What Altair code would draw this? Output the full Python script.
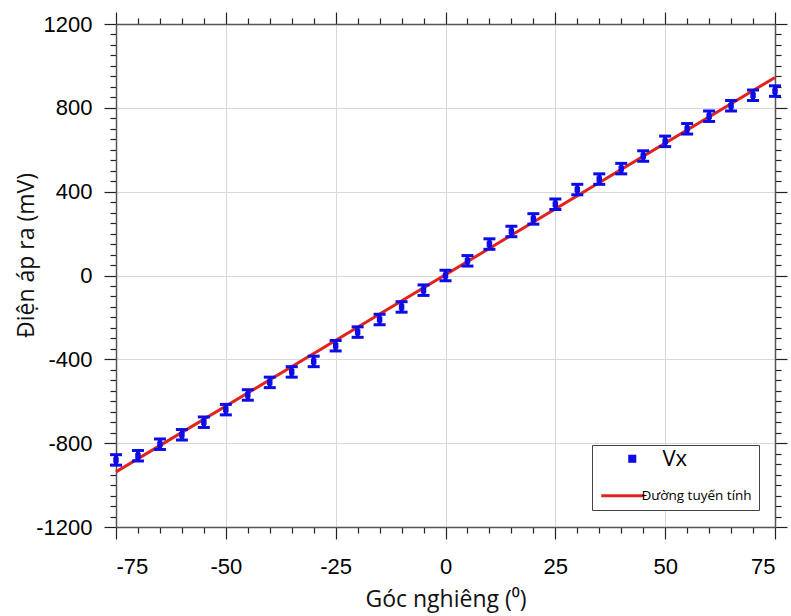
import altair as alt
import pandas as pd

# ---- data ----
angles = [-75, -70, -65, -60, -55, -50, -45, -40, -35, -30, -25, -20, -15, -10, -5,
          0, 5, 10, 15, 20, 25, 30, 35, 40, 45, 50, 55, 60, 65, 70, 75]
vx = [-880, -860, -805, -760, -700, -640, -570, -510, -460, -410, -335, -270, -210, -150, -70,
      0, 70, 150, 210, 270, 340, 410, 460, 510, 570, 640, 700, 760, 810, 860, 880]
vx_err = [25, 25, 25, 25, 25, 25, 25, 25, 25, 25, 25, 25, 25, 25, 25,
          25, 25, 25, 25, 25, 25, 25, 25, 25, 25, 25, 25, 25, 25, 25, 25]
fit_x = [-75, 75]
fit_y = [-937, 945]
series_names = ["Vx", "Đường tuyến tính"]
x_ticks = list(range(-75, 80, 5))
y_ticks = list(range(-1200, 1250, 50))

BLUE = "#0c0ce6"
RED = "#e0231f"

df = pd.DataFrame({"angle": angles, "vx": vx,
                   "lo": [v - e for v, e in zip(vx, vx_err)],
                   "hi": [v + e for v, e in zip(vx, vx_err)],
                   "series": series_names[0]})
fit_df = pd.DataFrame({"x": fit_x, "y": fit_y, "series": series_names[1]})

xscale = alt.Scale(domain=[-75, 75], nice=False, zero=False)
yscale = alt.Scale(domain=[-1200, 1200], nice=False, zero=False)
cscale = alt.Scale(domain=series_names, range=[BLUE, RED])

X_MAJOR = "datum.value % 25 === 0"
Y_MAJOR = "datum.value % 400 === 0"

common = dict(domainColor="#555555", domainWidth=1.5, tickColor="#222222", tickWidth=1.2,
              labelFont="Liberation Sans", labelFontSize=22, labelColor="black",
              labelOverlap=False, titleFont="Open Sans", titleFontSize=23,
              titleColor="#111111", titleFontWeight="normal")

x_bottom = alt.Axis(
    orient="bottom", values=x_ticks, title="Góc nghiêng (⁰)",
    labelExpr=f"{X_MAJOR} ? ('' + datum.value) : ''",
    tickSize={"condition": {"test": X_MAJOR, "value": 12}, "value": 6},
    labelPadding=17,
    grid=True, gridColor="#d8d8d8", gridWidth=1,
    gridOpacity={"condition": {"test": X_MAJOR, "value": 1}, "value": 0},
    titleX=329.5, titleY=79, titleBaseline="alphabetic", titleAnchor="middle",
    **common)
x_top = alt.Axis(
    orient="top", values=x_ticks, title=None, labels=False, grid=False,
    tickSize={"condition": {"test": X_MAJOR, "value": 12}, "value": 6},
    **common)
y_left = alt.Axis(
    orient="left", values=y_ticks, title="Điện áp ra (mV)",
    labelExpr=f"{Y_MAJOR} ? ('' + datum.value) : ''",
    tickSize={"condition": {"test": Y_MAJOR, "value": 12}, "value": 6},
    labelPadding=12,
    grid=True, gridColor="#d8d8d8", gridWidth=1,
    gridOpacity={"condition": {"test": Y_MAJOR, "value": 1}, "value": 0},
    titleX=-83, titleY=231, titleAngle=-90, titleBaseline="alphabetic",
    titleAnchor="middle",
    **common)
y_right = alt.Axis(
    orient="right", values=y_ticks, title=None, labels=False, grid=False,
    tickSize={"condition": {"test": Y_MAJOR, "value": 12}, "value": 6},
    **common)

# legend symbols as unit paths (scaled by the symbol size)
SQUARE_PATH = "M1.06,-0.19H1.44V0.19H1.06Z"
LINE_PATH = "M-0.21,0H1.82"
legend = alt.Legend(
    title=None, orient="none", legendX=476, legendY=421,
    strokeColor="#444444", fillColor="white", padding=7, cornerRadius=0,
    rowPadding=18,
    symbolType=alt.ExprRef(expr=f"datum.value == 'Vx' ? '{SQUARE_PATH}' : '{LINE_PATH}'"),
    symbolSize=1800,
    symbolStrokeWidth=alt.ExprRef(expr="datum.value == 'Vx' ? 0 : 3"),
    labelFontSize=alt.ExprRef(expr="datum.value == 'Vx' ? 22 : 13.5"),
    labelOffset=alt.ExprRef(expr="datum.value == 'Vx' ? 50 : 29"),
    labelFont="Open Sans", labelColor="black",
)

fit = alt.Chart(fit_df).mark_line(strokeWidth=3).encode(
    x=alt.X("x:Q", scale=xscale, axis=x_bottom),
    y=alt.Y("y:Q", scale=yscale, axis=y_left),
    color=alt.Color("series:N", scale=cscale, legend=legend),
)

bars = alt.Chart(df).mark_rule(strokeWidth=4, color=BLUE).encode(
    x=alt.X("angle:Q", scale=xscale, axis=x_top),
    y=alt.Y("lo:Q", scale=yscale, axis=y_right),
    y2="hi:Q",
)
cap_lo = alt.Chart(df).mark_tick(orient="horizontal", size=12, thickness=3, color=BLUE,
                                 opacity=1).encode(
    x=alt.X("angle:Q", scale=xscale, axis=None),
    y=alt.Y("lo:Q", scale=yscale, axis=None),
)
cap_hi = alt.Chart(df).mark_tick(orient="horizontal", size=12, thickness=3, color=BLUE,
                                 opacity=1).encode(
    x=alt.X("angle:Q", scale=xscale, axis=None),
    y=alt.Y("hi:Q", scale=yscale, axis=None),
)
points = alt.Chart(df).mark_square(size=30, opacity=1).encode(
    x=alt.X("angle:Q", scale=xscale, axis=None),
    y=alt.Y("vx:Q", scale=yscale, axis=None),
    color=alt.Color("series:N", scale=cscale, legend=legend),
)

chart = alt.layer(fit, bars, cap_lo, cap_hi, points).resolve_axis(
    x="independent", y="independent"
).properties(
    width=659, height=503,
    autosize=alt.AutoSizeParams(type="none"),
    padding={"left": 116, "top": 24, "right": 16, "bottom": 89},
    background="white",
).configure_view(stroke=None)

chart.save("out.html", embed_options={"renderer": "svg", "actions": False})
